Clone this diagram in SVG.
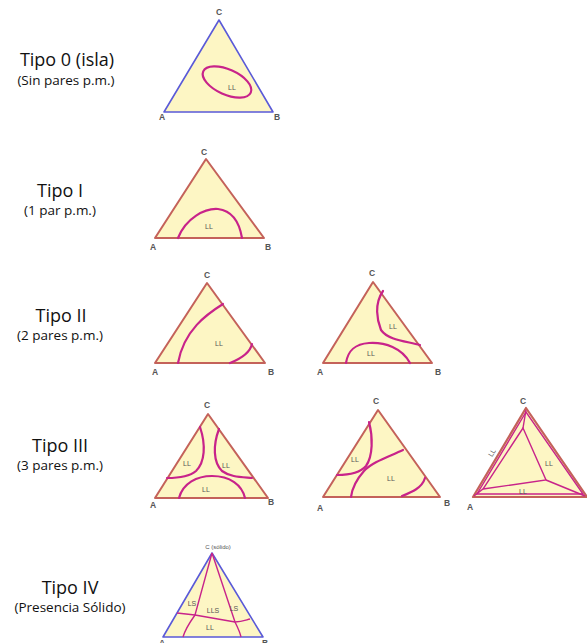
<svg xmlns="http://www.w3.org/2000/svg" width="587" height="643" viewBox="0 0 587 643">
<style>
.tri{fill:#fdf6c4;stroke:#c4625a;stroke-width:2;stroke-linejoin:round}
.triB{fill:#fdf6c4;stroke:#5a5ad8;stroke-width:1.6;stroke-linejoin:round}
.cur{fill:none;stroke:#c8238a;stroke-width:2.2;stroke-linecap:round}
.thin{fill:none;stroke:#c8238a;stroke-width:1.4}
.v{font-family:"Liberation Sans",Arial,sans-serif;font-size:8.5px;font-weight:bold;fill:#555;text-anchor:middle}
.ll{font-family:"Liberation Sans",Arial,sans-serif;font-size:7px;fill:#555;text-anchor:middle}
.h{font-family:"Open Sans","Liberation Sans",sans-serif;font-size:18px;fill:#111;text-anchor:middle}
.s{font-family:"Open Sans","Liberation Sans",sans-serif;font-size:13.5px;fill:#111;text-anchor:middle}
</style>
<rect width="587" height="643" fill="#fff"/>
<g id="labels">
<text class="h" x="67" y="66">Tipo 0 (isla)</text>
<text class="s" x="66" y="85">(Sin pares p.m.)</text>
<text class="h" x="60" y="197">Tipo I</text>
<text class="s" x="60" y="215">(1 par p.m.)</text>
<text class="h" x="61" y="322">Tipo II</text>
<text class="s" x="60" y="340">(2 pares p.m.)</text>
<text class="h" x="60" y="452">Tipo III</text>
<text class="s" x="60" y="470">(3 pares p.m.)</text>
<text class="h" x="70" y="594">Tipo IV</text>
<text class="s" x="70" y="612">(Presencia Sólido)</text>
</g>
<g id="t0">
<polygon class="triB" points="219,20 164,112 273,112"/>
<ellipse class="cur" cx="227" cy="82" rx="26" ry="12.5" transform="rotate(24 227 82)"/>
<text class="ll" x="232" y="90">LL</text>
<text class="v" x="219" y="15">C</text>
<text class="v" x="162" y="120">A</text>
<text class="v" x="277" y="120">B</text>
</g>
<g id="t1">
<polygon class="tri" points="206,159 155,238 264,238"/>
<path class="cur" d="M178,238 C186,218 205,208 218,209 C234,211 240,226 242,238"/>
<text class="ll" x="209" y="229">LL</text>
<text class="v" x="204" y="155">C</text>
<text class="v" x="153" y="250">A</text>
<text class="v" x="268" y="250">B</text>
</g>
<g id="t2a">
<polygon class="tri" points="207,283 155,363 265,363"/>
<path class="cur" d="M223,304 C207,314 184,330 178,363"/>
<path class="cur" d="M252,344 C250,353 240,359 230,363"/>
<text class="ll" x="219" y="346">LL</text>
<text class="v" x="207" y="278">C</text>
<text class="v" x="155" y="375">A</text>
<text class="v" x="271" y="375">B</text>
</g>
<g id="t2b">
<polygon class="tri" points="373,282 323,363 432,363"/>
<path class="cur" d="M383,291 C374,304 377,320 381,330 C388,340 405,341 420,345"/>
<path class="cur" d="M346,363 C348,350 355,344 369,343 C385,342 402,348 410,363"/>
<text class="ll" x="393" y="329">LL</text>
<text class="ll" x="371" y="356">LL</text>
<text class="v" x="372" y="276">C</text>
<text class="v" x="320" y="375">A</text>
<text class="v" x="438" y="375">B</text>
</g>
<g id="t3a">
<polygon class="tri" points="208,414 155,498 268,498"/>
<path class="cur" d="M200,427 C206,445 205,462 196,471 C189,477 177,478 167,478"/>
<path class="cur" d="M219,429 C213,445 213,462 222,471 C230,477 241,477 252,478"/>
<path class="cur" d="M179,498 C183,483 197,476 212,476 C230,476 242,485 245,498"/>
<text class="ll" x="187" y="466">LL</text>
<text class="ll" x="226" y="468">LL</text>
<text class="ll" x="206" y="492">LL</text>
<text class="v" x="207" y="408">C</text>
<text class="v" x="153" y="508">A</text>
<text class="v" x="271" y="505">B</text>
</g>
<g id="t3b">
<polygon class="tri" points="378,410 323,497 440,497"/>
<path class="cur" d="M369,422 C373,437 373,456 366,466 C360,473 348,475 337,475"/>
<path class="cur" d="M403,450 C388,457 372,462 364,471 C356,480 352,489 351,497"/>
<path class="cur" d="M425,478 C422,488 412,492 402,496"/>
<text class="ll" x="355" y="462">LL</text>
<text class="ll" x="391" y="481">LL</text>
<text class="v" x="376" y="404">C</text>
<text class="v" x="320" y="511">A</text>
<text class="v" x="447" y="506">B</text>
</g>
<g id="t3c">
<polygon class="tri" points="526,408 473,497 587,497" style="stroke-width:2.2"/>
<polygon class="thin" points="526,412 477,494 583,494"/>
<polygon class="thin" points="523,428 546,480 483,489"/>
<line class="thin" x1="523" y1="428" x2="526" y2="410"/>
<line class="thin" x1="546" y1="480" x2="585" y2="496"/>
<line class="thin" x1="483" y1="489" x2="474" y2="496"/>
<text class="ll" x="0" y="0" transform="translate(494,454) rotate(-58)">LL</text>
<text class="ll" x="549" y="466">LL</text>
<text class="ll" x="523" y="494">LL</text>
<text class="v" x="523" y="404">C</text>
<text class="v" x="470" y="510">A</text>
</g>
<g id="t4">
<polygon class="triB" points="212,553 163,637 263,637"/>
<path class="thin" d="M212,553 L195,615 C190,622 185,630 183,637"/>
<path class="thin" d="M212,553 L235,622 C238,628 240,632 241,637"/>
<path class="thin" d="M177,613 L195,615 L235,622 C242,622 246,620 250,619"/>
<text class="ll" x="192" y="606">LS</text>
<text class="ll" x="213" y="613">LLS</text>
<text class="ll" x="234" y="611">LS</text>
<text class="ll" x="210" y="630">LL</text>
<text class="ll" x="218" y="549" style="font-size:6px">C (sólido)</text>
<text class="v" x="162" y="646">A</text>
<text class="v" x="265" y="646">B</text>
</g>
</svg>
